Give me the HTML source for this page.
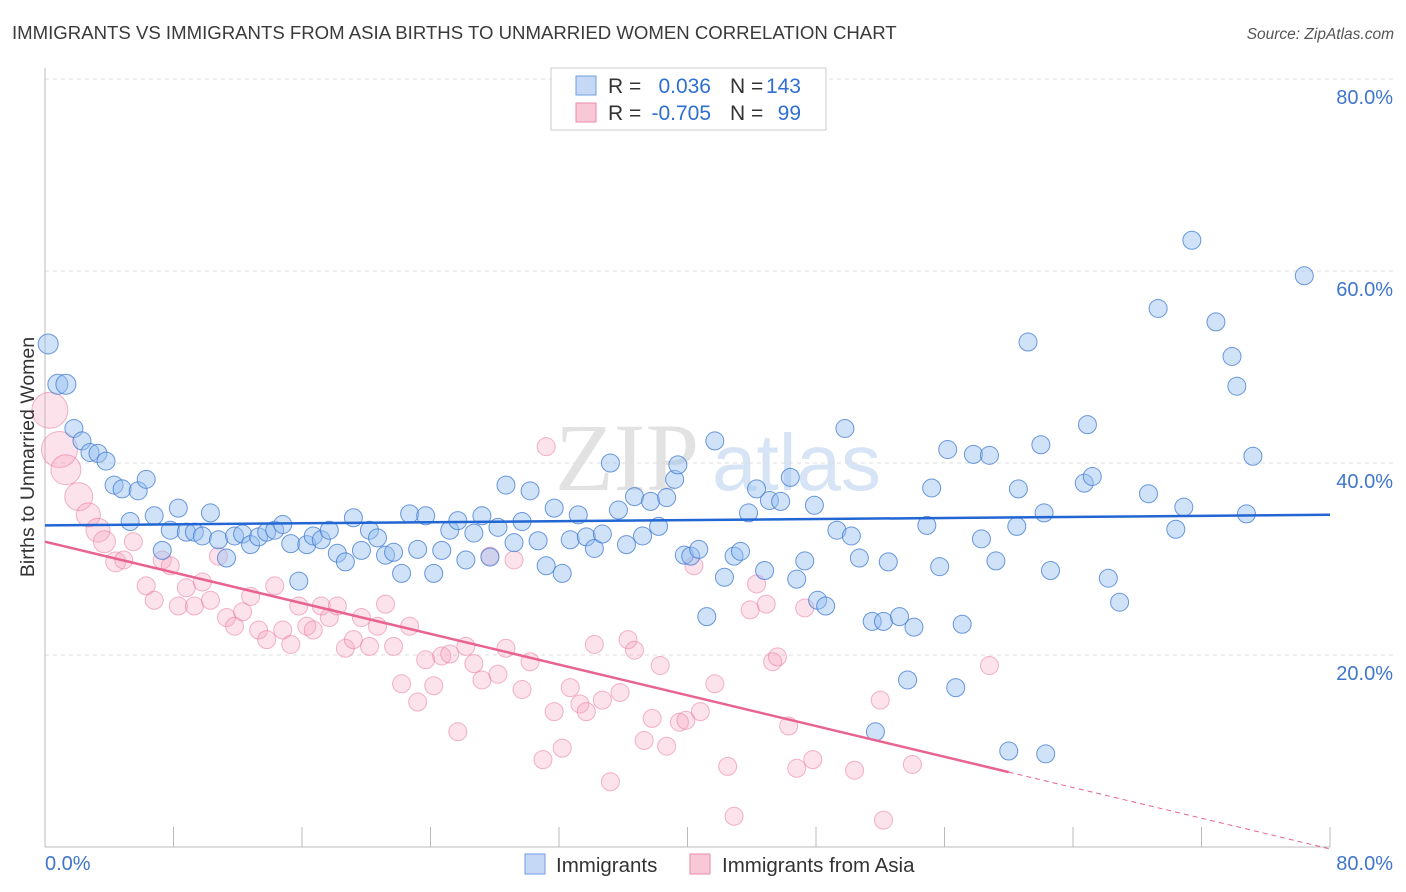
<!DOCTYPE html>
<html><head><meta charset="utf-8"><style>
body{margin:0;background:#fff;font-family:"Liberation Sans",sans-serif;}
svg{display:block}
</style></head><body>
<svg width="1406" height="892" xmlns="http://www.w3.org/2000/svg" id="chart">
<text x="12" y="39" font-size="18.6" fill="#3a3a3a">IMMIGRANTS VS IMMIGRANTS FROM ASIA BIRTHS TO UNMARRIED WOMEN CORRELATION CHART</text>
<text x="1394" y="39" font-size="15.5" fill="#555" font-style="italic" text-anchor="end">Source: ZipAtlas.com</text>
<g>
<text x="555" y="490" font-size="96" font-family="Liberation Serif,serif" fill="#e2e2e2">ZIP</text>
<text x="712" y="490" font-size="80" fill="#d6e4f5">atlas</text>
</g>
<g id="grid"></g>
<g id="axes"></g>
<g id="marks"></g>
<text transform="translate(34,457) rotate(-90)" font-size="19.5" fill="#333" text-anchor="middle">Births to Unmarried Women</text>
<g>
<rect x="551" y="68" width="275" height="62" fill="#fff" stroke="#ccc"/>
<rect x="576" y="76" width="20" height="19" fill="#c5d8f5" stroke="#6f9ee3"/>
<rect x="576" y="103" width="20" height="19" fill="#f9c8d6" stroke="#e98aa8"/>
<text x="608" y="93" font-size="21" fill="#333">R =</text>
<text x="711" y="93" font-size="21" fill="#2f6fd0" text-anchor="end">0.036</text>
<text x="730" y="93" font-size="21" fill="#333">N =</text>
<text x="801" y="93" font-size="21" fill="#2f6fd0" text-anchor="end">143</text>
<text x="608" y="120" font-size="21" fill="#333">R =</text>
<text x="711" y="120" font-size="21" fill="#2f6fd0" text-anchor="end">-0.705</text>
<text x="730" y="120" font-size="21" fill="#333">N =</text>
<text x="801" y="120" font-size="21" fill="#2f6fd0" text-anchor="end">99</text>
</g>
<g>
<rect x="525" y="854" width="20" height="20" fill="#c5d8f5" stroke="#6f9ee3"/>
<text x="556" y="872" font-size="20.5" fill="#333">Immigrants</text>
<rect x="690" y="854" width="20" height="20" fill="#f9c8d6" stroke="#e98aa8"/>
<text x="722" y="872" font-size="20.5" fill="#333">Immigrants from Asia</text>
</g>
</svg>
<script>
const blueX=[0.2,0.8,1.3,1.8,2.3,2.8,3.3,3.8,4.3,4.8,5.8,6.3,5.3,6.8,7.3,7.8,8.3,8.8,9.3,9.8,10.3,10.8,11.3,11.8,12.3,12.8,13.3,13.8,14.3,14.8,15.3,15.8,16.3,16.7,17.2,17.7,18.2,18.7,19.2,19.7,20.2,20.7,21.2,21.7,22.2,22.7,23.2,23.7,24.2,24.7,25.2,25.7,26.2,26.7,27.2,27.7,28.2,28.7,29.2,29.7,30.2,30.7,31.2,31.7,32.2,32.7,33.2,33.7,34.2,34.7,35.2,35.7,36.2,36.7,37.2,37.7,38.2,38.7,39.2,39.4,39.8,40.2,40.7,41.2,41.7,42.3,42.9,43.3,43.8,44.3,44.8,45.1,45.8,46.4,46.8,47.3,48.1,48.6,47.9,49.3,49.8,50.2,50.7,51.5,51.7,52.2,52.5,53.2,53.7,54.1,54.9,55.2,55.7,56.2,57.1,56.7,57.8,58.3,58.8,59.2,60.0,60.5,60.6,61.2,62.0,62.2,62.6,64.7,64.9,65.2,66.2,66.9,68.7,69.3,70.4,70.9,71.4,72.9,73.9,74.2,74.8,75.2,78.4,62.3];
const blueY=[52.4,48.2,48.2,43.6,42.3,41.1,41.0,40.2,37.7,37.3,37.1,38.3,33.9,34.5,30.9,33.0,35.3,32.8,32.8,32.4,34.8,32.0,30.1,32.4,32.6,31.5,32.3,32.8,33.0,33.6,31.6,27.7,31.5,32.4,32.0,33.0,30.6,29.7,34.3,30.9,33.0,32.2,30.4,30.7,28.5,34.7,31.0,34.5,28.5,30.9,33.0,34.0,29.9,32.7,34.5,30.2,33.3,37.7,31.7,33.9,37.1,31.9,29.3,35.3,28.5,32.0,34.6,32.3,31.1,32.6,40.0,35.1,31.5,36.5,32.4,36.0,33.4,36.4,38.3,39.8,30.4,30.3,31.0,24.0,42.3,28.1,30.3,30.8,34.8,37.3,28.8,36.1,36.0,38.5,27.9,29.8,25.7,25.1,35.6,33.0,43.6,32.4,30.1,23.5,12.0,23.5,29.7,24.0,17.4,22.9,33.5,37.4,29.2,41.4,23.2,16.6,40.9,32.1,40.8,29.8,10.0,33.4,37.3,52.6,41.9,34.8,28.8,37.9,44.0,38.6,28.0,25.5,36.8,56.1,33.1,35.4,63.2,54.7,51.1,48.0,34.7,40.7,59.5,9.7];
const pinkX=[0.3,0.9,1.3,2.1,2.7,3.3,3.7,4.4,4.9,5.5,6.3,6.8,7.3,7.8,8.3,8.8,9.3,9.8,10.3,10.8,11.3,11.8,12.3,12.8,13.3,13.8,14.3,14.8,15.3,15.8,16.3,16.7,17.2,17.7,18.2,18.7,19.2,19.7,20.2,20.7,21.2,21.7,22.2,22.7,23.2,23.7,24.2,24.7,25.2,25.7,26.2,26.7,27.2,27.7,28.2,28.7,29.2,29.7,30.2,31.0,31.2,31.7,32.2,32.7,33.3,33.7,34.2,34.7,35.2,35.8,36.3,36.7,37.3,37.8,38.3,38.7,39.5,39.9,40.4,40.8,41.7,42.5,42.9,43.9,44.3,44.9,45.3,45.6,46.3,46.8,47.3,47.8,50.4,52.0,52.2,54.0,58.8];
const pinkY=[45.5,41.4,39.3,36.5,34.6,33.0,31.8,29.7,29.9,31.8,27.2,25.7,29.9,29.3,25.1,27.0,25.1,27.6,25.7,30.3,23.9,23.0,24.5,26.1,22.6,21.6,27.2,22.6,21.1,25.1,23.0,22.6,25.1,23.9,25.1,20.7,21.6,23.9,20.9,23.0,25.3,20.9,17.0,23.0,15.1,19.5,16.8,19.9,20.1,12.0,20.9,19.1,17.4,30.3,18.0,20.7,29.9,16.4,19.3,9.1,41.7,14.1,10.3,16.6,14.9,14.1,21.1,15.3,6.8,16.1,21.6,20.5,11.1,13.4,18.9,10.5,13.0,13.2,29.3,14.1,17.0,8.4,3.2,24.7,27.4,25.3,19.3,19.8,12.6,8.2,24.9,9.1,8.0,15.3,2.8,8.6,18.9];
const blueTrend=[33.5,0.0138];
const pinkTrend=[31.8,-0.4];
const yTicks=[20,40,60,80];
const xTickLabels=["0.0%","80.0%"];

const NS="http://www.w3.org/2000/svg";
const X0=45,X1=1330,Y0=847,YT=79;
const sx=v=>X0+(v/80)*(X1-X0);
const sy=v=>Y0-(v/80)*(Y0-YT);
function mk(t,a,p){const e=document.createElementNS(NS,t);for(const k in a)e.setAttribute(k,a[k]);p.appendChild(e);return e;}
const grid=document.getElementById('grid'),axes=document.getElementById('axes'),marks=document.getElementById('marks');
yTicks.forEach(v=>{
  const l=mk('line',{x1:X0,x2:1393,y1:sy(v),y2:sy(v),stroke:'#ddd','stroke-dasharray':'4,4'},grid);
  
  
  const t=mk('text',{x:1393,y:sy(v)+25,'font-size':20,fill:'#3f75cc','text-anchor':'end'},axes);
  t.textContent=v.toFixed(1)+'%';
  
  
});
const yl=mk('line',{x1:X0,x2:X0,y1:68,y2:Y0,stroke:'#bbb'},axes);


const xl=mk('line',{x1:X0,x2:X1,y1:Y0,y2:Y0,stroke:'#bbb'},axes);


for(let i=1;i<=10;i++){
  const v=i*8;
  const tk=mk('line',{x1:sx(v),x2:sx(v),y1:Y0,y2:Y0-20,stroke:'#bbb'},axes);
  
  
}
const t0=mk('text',{x:X0,y:870,'font-size':20,fill:'#3f75cc'},axes);
t0.textContent=xTickLabels[0];


const t1=mk('text',{x:1393,y:870,'font-size':20,fill:'#3f75cc','text-anchor':'end'},axes);
t1.textContent=xTickLabels[1];



const bigR=[18,18,15,14,12,12,11,10];
pinkX.forEach((x,i)=>{
  const c=mk('circle',{cx:sx(x),cy:sy(pinkY[i]),r:bigR[i]||9,fill:'rgba(245,160,188,0.3)',stroke:'rgba(232,120,158,0.55)','stroke-width':1},marks);
  
  
});
blueX.forEach((x,i)=>{
  const c=mk('circle',{cx:sx(x),cy:sy(blueY[i]),r:(i<3?10:9),fill:'rgba(150,190,240,0.45)',stroke:'rgba(60,120,210,0.75)','stroke-width':1},marks);
  
  
});
const bt=mk('line',{x1:sx(0),y1:sy(blueTrend[0]),x2:sx(80),y2:sy(blueTrend[0]+blueTrend[1]*80),stroke:'#2166d2','stroke-width':2.5},marks);


const pEnd=60;
const pt=mk('line',{x1:sx(0),y1:sy(pinkTrend[0]),x2:sx(pEnd),y2:sy(pinkTrend[0]+pinkTrend[1]*pEnd),stroke:'#e8638f','stroke-width':2.5},marks);


const pd=mk('line',{x1:sx(pEnd),y1:sy(pinkTrend[0]+pinkTrend[1]*pEnd),x2:sx(80),y2:sy(pinkTrend[0]+pinkTrend[1]*80),stroke:'#e8638f','stroke-width':1,'stroke-dasharray':'5,4'},marks);


</script>
</body></html>
